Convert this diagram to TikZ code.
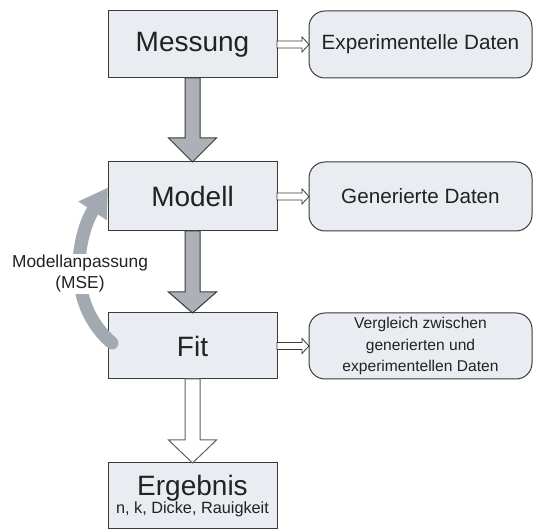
\documentclass[tikz,border=0pt]{standalone}
\usepackage{fontspec}
\setmainfont{Liberation Sans}
\usetikzlibrary{arrows.meta,calc}
\definecolor{boxfill}{HTML}{E9EDF1}
\definecolor{boxline}{HTML}{3A3A3A}
\definecolor{arrowgray}{HTML}{ADB1B7}
\definecolor{curvegray}{HTML}{A3A9B0}
\definecolor{txt}{HTML}{222222}
\tikzset{
  mainbox/.style={draw=boxline, fill=boxfill, line width=0.75pt, inner sep=0pt, outer sep=0pt,
    minimum width=126.75pt, text=txt, align=center},
  databox/.style={draw=boxline, fill=boxfill, line width=0.75pt, inner sep=0pt, outer sep=0pt,
    rounded corners=12pt, minimum width=167.25pt, text=txt, align=center},
  bigtext/.style={font=\fontsize{21}{25}\selectfont},
  midtext/.style={font=\fontsize{15.5}{19}\selectfont},
  smalltext/.style={font=\fontsize{11.7}{16}\selectfont},
  blockarrow/.style={draw=boxline, fill=arrowgray, line width=0.75pt, line join=miter},
  hollowblock/.style={draw=boxline!80, fill=white, line width=0.75pt, line join=miter},
  smallarrow/.style={draw=boxline, fill=white, line width=0.6pt, line join=miter},
}
\begin{document}
\begin{tikzpicture}[x=0.75pt, y=-0.75pt]
\path[use as bounding box] (0,0) rectangle (533,530);

% main boxes
\node[mainbox, bigtext, minimum height=50.25pt] (mess) at (192.5,44.5) {Messung};
\node[mainbox, bigtext, minimum height=51.75pt] (mod) at (192.5,196.5) {Modell};
\node[mainbox, bigtext, minimum height=49.5pt] (fit) at (192.5,346) {Fit};
\node[mainbox, minimum height=49.5pt] (erg) at (192.5,496)
  {{\fontsize{21}{22}\selectfont Ergebnis}\\[-1pt]{\fontsize{12.2}{14}\selectfont n, k, Dicke, Rauigkeit}};

% data boxes
\node[databox, midtext, minimum height=50.25pt] (exp) at (420.5,44.5) {Experimentelle Daten};
\node[databox, midtext, minimum height=51.75pt] (gen) at (420.5,196.5) {Generierte Daten};
\node[databox, smalltext, minimum height=49.5pt] (cmp) at (420.5,346)
  {Vergleich zwischen\\generierten und\\experimentellen Daten};

% small hollow arrows
\foreach \a/\b in {mess/exp, mod/gen, fit/cmp}{
  \draw[smallarrow] ($(\a.east)+(0,-3.5)$) -- ($(\b.west)+(-7,-3.5)$) -- ($(\b.west)+(-7,-7.5)$)
    -- (\b.west) -- ($(\b.west)+(-7,7.5)$) -- ($(\b.west)+(-7,3.5)$) -- ($(\a.east)+(0,3.5)$) -- cycle;
}

% big block arrows
\draw[blockarrow] ($(mess.south)+(-7.5,0)$) -- ($(mod.north)+(-7.5,-24)$) -- ($(mod.north)+(-24,-24)$)
  -- (mod.north) -- ($(mod.north)+(24,-24)$) -- ($(mod.north)+(7.5,-24)$) -- ($(mess.south)+(7.5,0)$) -- cycle;
\draw[blockarrow] ($(mod.south)+(-7.5,0)$) -- ($(fit.north)+(-7.5,-21)$) -- ($(fit.north)+(-24,-21)$)
  -- (fit.north) -- ($(fit.north)+(24,-21)$) -- ($(fit.north)+(7.5,-21)$) -- ($(mod.south)+(7.5,0)$) -- cycle;
\draw[hollowblock] ($(fit.south)+(-7.5,0)$) -- ($(erg.north)+(-7.5,-23)$) -- ($(erg.north)+(-24,-23)$)
  -- (erg.north) -- ($(erg.north)+(24,-23)$) -- ($(erg.north)+(7.5,-23)$) -- ($(fit.south)+(7.5,0)$) -- cycle;

% curved feedback arrow
\coordinate (cs) at ($(fit.west)+(4,-3)$);
\coordinate (ce) at ($(mod.west)+(0,-9)$);
\draw[curvegray, line width=9.75pt, line cap=round, -{Triangle[width=24pt,length=21pt]}]
  (cs) .. controls (62,300) and (80,230) .. (ce);

\node[fill=white, inner sep=1pt, text=txt, align=center, font=\fontsize{13}{15.75}\selectfont] (lab) at (80,274)
  {Modellanpassung\\(MSE)};
\end{tikzpicture}
\end{document}
